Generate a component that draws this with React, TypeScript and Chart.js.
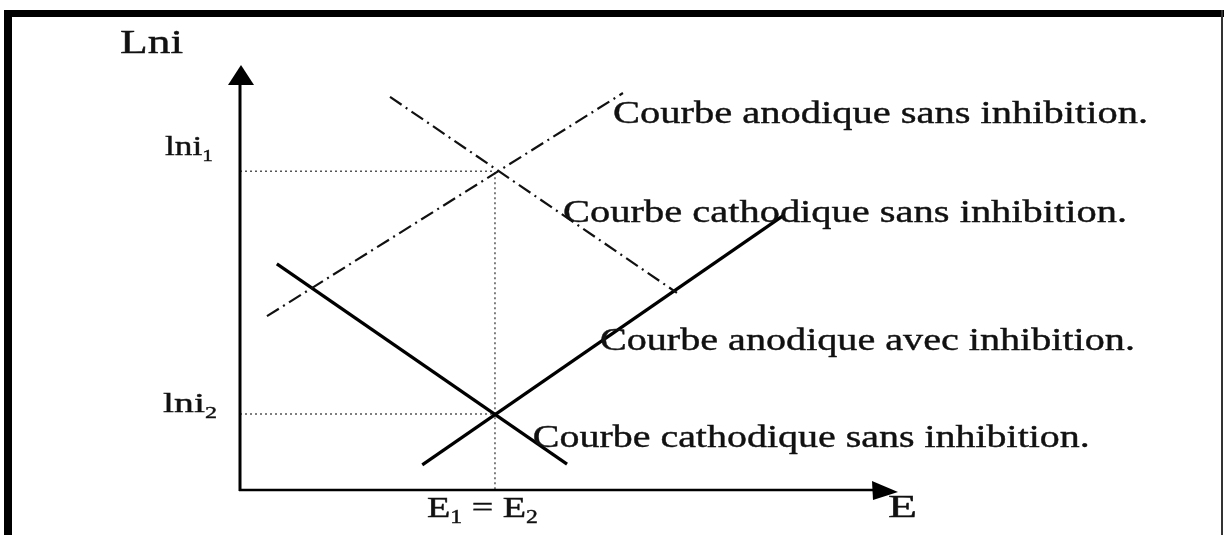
import React, { useEffect, useRef } from "react";
import { Chart, registerables } from "chart.js";

Chart.register(...registerables);

// ---- Data (abstract units: E on x 0..100, ln i on y 0..100) ----
const anodicFreeE = [4.1, 58.2];
const anodicFreeLnI = [40.9, 93.4];

const cathodicFreeE = [22.8, 66.4];
const cathodicFreeLnI = [92.5, 46.4];

const anodicInhibE = [27.7, 82.5];
const anodicInhibLnI = [5.9, 64.5];

const cathodicInhibE = [5.6, 49.7];
const cathodicInhibLnI = [53.2, 6.1];

const corrosionE = 38.75; // E1 = E2
const lnI1 = 75.0;
const lnI2 = 17.9;

const curveLabels = [
  "Courbe anodique sans inhibition.",
  "Courbe cathodique sans inhibition.",
  "Courbe anodique avec inhibition.",
  "Courbe cathodique sans inhibition.",
];
const curveLabelE = [56.7, 49.1, 54.7, 44.5];
const curveLabelLnI = [86.4, 63.1, 32.9, 10.1];

const yAxisTitle = "Lni";
const xAxisTitle = "E";

const FONT = '"Liberation Serif", "Times New Roman", Times, serif';

type Seg = { t: string; sub?: boolean };

function drawRich(
  ctx: CanvasRenderingContext2D,
  segs: Seg[],
  x: number,
  y: number,
  size: number,
  target?: number
) {
  const subSize = Math.round(size * 0.62);
  let w = 0;
  for (const s of segs) {
    ctx.font = `${s.sub ? subSize : size}px ${FONT}`;
    w += ctx.measureText(s.t).width;
  }
  const sx = target ? target / w : 1.3;
  ctx.save();
  ctx.translate(x, y);
  ctx.scale(sx, 1);
  ctx.fillStyle = "#111";
  ctx.strokeStyle = "#111";
  ctx.lineWidth = 0.4;
  ctx.textBaseline = "alphabetic";
  ctx.textAlign = "left";
  let cx = 0;
  for (const s of segs) {
    ctx.font = `${s.sub ? subSize : size}px ${FONT}`;
    const dy = s.sub ? size * 0.2 : 0;
    ctx.fillText(s.t, cx, dy);
    ctx.strokeText(s.t, cx, dy);
    cx += ctx.measureText(s.t).width;
  }
  ctx.restore();
}

const diagramPlugin = {
  id: "diagram",
  beforeDraw(chart: any) {
    const { ctx, width, height } = chart;
    ctx.save();
    ctx.fillStyle = "#fff";
    ctx.fillRect(0, 0, width, height);
    ctx.restore();
  },
  afterDraw(chart: any) {
    const { ctx, width, height } = chart;
    const xs = chart.scales.x;
    const ys = chart.scales.y;
    const x0 = xs.getPixelForValue(0);
    const y0 = ys.getPixelForValue(0);
    const xTip = xs.getPixelForValue(100);
    const yTip = ys.getPixelForValue(100);

    ctx.save();
    // frame
    ctx.fillStyle = "#000";
    ctx.fillRect(4, 10, width - 4, 7);
    ctx.fillRect(4, 10, 8, height - 10);
    ctx.fillStyle = "#333";
    ctx.fillRect(width - 3, 10, 2, height - 10);

    // axes
    ctx.strokeStyle = "#000";
    ctx.fillStyle = "#000";
    ctx.lineWidth = 3;
    ctx.beginPath();
    ctx.moveTo(x0, y0 + 1);
    ctx.lineTo(x0, yTip + 18);
    ctx.stroke();
    ctx.lineWidth = 2.5;
    ctx.beginPath();
    ctx.moveTo(x0 - 1, y0);
    ctx.lineTo(xTip - 24, y0);
    ctx.stroke();
    // y arrow
    ctx.beginPath();
    ctx.moveTo(x0 + 1, yTip);
    ctx.lineTo(x0 - 12, yTip + 20);
    ctx.lineTo(x0 + 14, yTip + 20);
    ctx.closePath();
    ctx.fill();
    // x arrow
    ctx.beginPath();
    ctx.moveTo(xTip, y0 + 2);
    ctx.lineTo(xTip - 26, y0 - 9);
    ctx.lineTo(xTip - 25, y0 + 10);
    ctx.closePath();
    ctx.fill();
    ctx.restore();

    // axis titles
    drawRich(ctx, [{ t: yAxisTitle }], x0 - 120, yTip - 12, 33, 63);
    drawRich(ctx, [{ t: xAxisTitle }], xTip - 10, y0 + 27, 31, 29);

    // tick labels
    const py1 = ys.getPixelForValue(lnI1);
    const py2 = ys.getPixelForValue(lnI2);
    const pxE = xs.getPixelForValue(corrosionE);
    drawRich(ctx, [{ t: "lni" }, { t: "1", sub: true }], x0 - 75, py1 - 16, 28, 48);
    drawRich(ctx, [{ t: "lni" }, { t: "2", sub: true }], x0 - 77, py2 - 2, 28, 54);
    drawRich(
      ctx,
      [{ t: "E" }, { t: "1", sub: true }, { t: " = E" }, { t: "2", sub: true }],
      pxE - 68,
      y0 + 27,
      29,
      111
    );

    // curve labels
    const targets = [535, 564, 535, 557];
    curveLabels.forEach((t, i) => {
      const px = xs.getPixelForValue(curveLabelE[i]);
      const py = ys.getPixelForValue(curveLabelLnI[i]);
      drawRich(ctx, [{ t }], px, py, 31, targets[i]);
    });
  },
};

function pts(xs: number[], ys: number[]) {
  return xs.map((x, i) => ({ x, y: ys[i] }));
}

export default function App() {
  const ref = useRef<HTMLCanvasElement | null>(null);

  useEffect(() => {
    document.body.style.margin = "0";
    const canvas = ref.current!;
    const dashDot = [14, 5, 2, 5];
    const dotted = [2, 3];
    let chart: Chart | null = null;
    let cancelled = false;

    const build = () => {
      if (cancelled) return;
      chart = new Chart(canvas, {
        type: "line",
        data: {
          datasets: [
            {
              label: "Courbe anodique sans inhibition",
              data: pts(anodicFreeE, anodicFreeLnI),
              borderColor: "#111",
              borderWidth: 2.2,
              borderDash: dashDot,
            },
            {
              label: "Courbe cathodique sans inhibition",
              data: pts(cathodicFreeE, cathodicFreeLnI),
              borderColor: "#111",
              borderWidth: 2.2,
              borderDash: dashDot,
            },
            {
              label: "Courbe anodique avec inhibition",
              data: pts(anodicInhibE, anodicInhibLnI),
              borderColor: "#000",
              borderWidth: 3.2,
            },
            {
              label: "Courbe cathodique avec inhibition",
              data: pts(cathodicInhibE, cathodicInhibLnI),
              borderColor: "#000",
              borderWidth: 3.2,
            },
            {
              label: "lni1",
              data: [
                { x: 0, y: lnI1 },
                { x: corrosionE, y: lnI1 },
              ],
              borderColor: "#555",
              borderWidth: 1.5,
              borderDash: dotted,
            },
            {
              label: "lni2",
              data: [
                { x: 0, y: lnI2 },
                { x: corrosionE, y: lnI2 },
              ],
              borderColor: "#555",
              borderWidth: 1.5,
              borderDash: dotted,
            },
            {
              label: "E1=E2",
              data: [
                { x: corrosionE, y: -1 },
                { x: corrosionE, y: lnI1 },
              ],
              borderColor: "#555",
              borderWidth: 1.5,
              borderDash: dotted,
            },
          ],
        },
        options: {
          responsive: false,
          devicePixelRatio: 1,
          animation: false,
          events: [],
          elements: {
            point: { radius: 0 },
            line: { tension: 0, borderCapStyle: "butt" },
          },
          layout: { padding: { left: 240, right: 326, top: 65, bottom: 45 } },
          scales: {
            x: { type: "linear", min: 0, max: 100, display: false },
            y: { type: "linear", min: 0, max: 100, display: false },
          },
          plugins: {
            legend: { display: false },
            tooltip: { enabled: false },
          },
        },
        plugins: [diagramPlugin],
      } as any);
    };

    const fontsApi: any = (document as any).fonts;
    if (fontsApi && fontsApi.load) {
      Promise.all([
        fontsApi.load('30px "Liberation Serif"'),
        fontsApi.load('18px "Liberation Serif"'),
      ])
        .catch(() => null)
        .then(build);
    } else {
      build();
    }

    return () => {
      cancelled = true;
      if (chart) chart.destroy();
    };
  }, []);

  return (
    <canvas
      ref={ref}
      width={1224}
      height={535}
      style={{ display: "block", width: 1224, height: 535 }}
    />
  );
}
